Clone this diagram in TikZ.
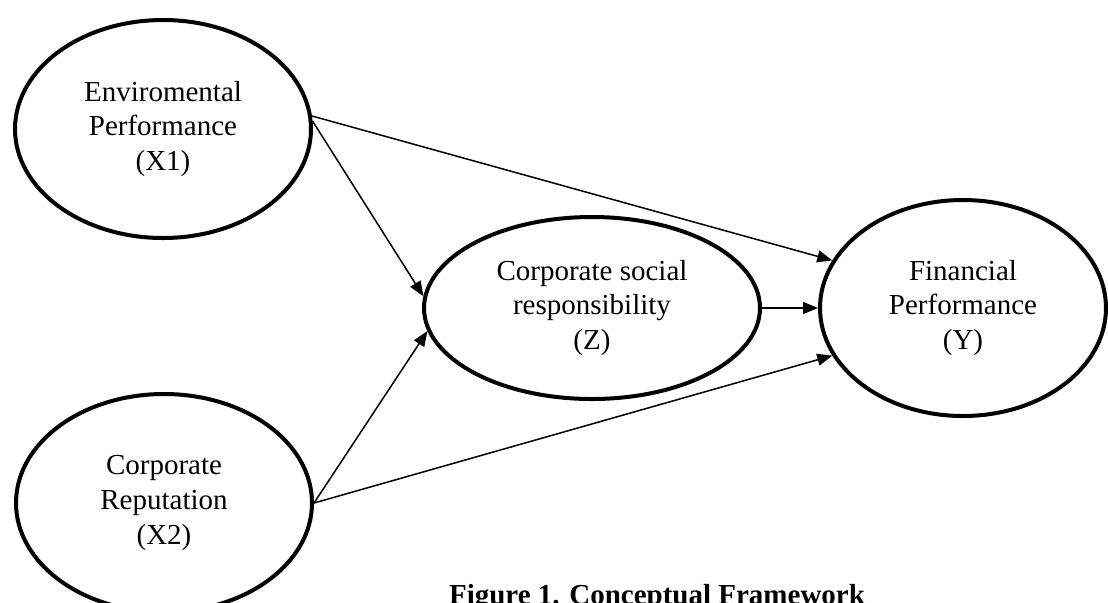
\documentclass[tikz,border=0pt]{standalone}
\usepackage{fontspec}
\setmainfont{Liberation Serif}
\usetikzlibrary{shapes.geometric,arrows.meta}
\begin{document}
\begin{tikzpicture}[x=0.5pt,y=-0.5pt,>={Triangle[length=7.5pt,width=6pt]},font=\fontsize{14.5}{17.3}\selectfont]
\tikzstyle{oval} = [ellipse, draw=black, line width=2pt, align=center, inner sep=0pt]
\tikzstyle{link} = [->, line width=0.75pt]
\useasboundingbox (0,0) rectangle (1108,602);
\node (X1)[oval, minimum width=148pt, minimum height=109pt] at (163,129) {Enviromental\\Performance\\(X1)};
\node (X2)[oval, minimum width=148pt, minimum height=109pt] at (164,503) {Corporate\\Reputation\\(X2)};
\node (Z)[oval, minimum width=168pt, minimum height=91pt] at (592,308) {Corporate social\\responsibility\\(Z)};
\node (Y)[oval, minimum width=143pt, minimum height=108pt] at (963,308) {Financial\\Performance\\(Y)};
\draw [link] (X1.5) -- (Y.160);
\draw [link] (X1.3) -- (Z.176);
\draw [link] (X2.east) -- (Z.188);
\draw [link] (X2.east) -- (Y.200);
\draw [link] (Z) -- (Y);
\node (caption)[anchor=base, font=\fontsize{14.5}{17.3}\selectfont\bfseries] at (657,604) {Figure 1. Conceptual Framework};
\end{tikzpicture}
\end{document}
